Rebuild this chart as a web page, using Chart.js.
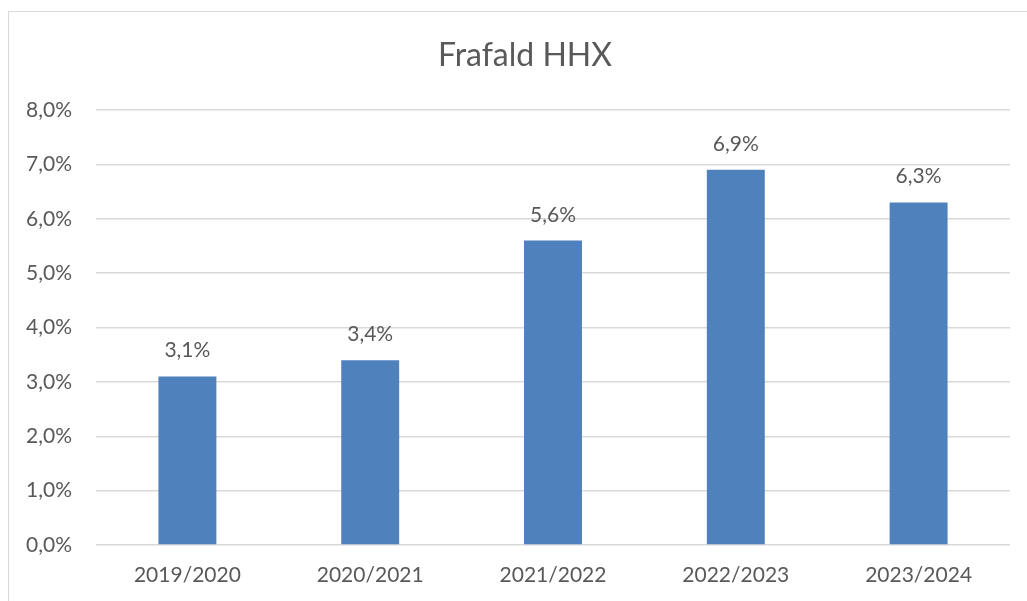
<!DOCTYPE html>
<html>
<head>
<meta charset="utf-8">
<script src="https://cdn.jsdelivr.net/npm/chart.js@4"></script>
<style>
html,body{margin:0;padding:0;background:#fff;}
#wrap{width:1027px;height:601px;position:relative;}
</style>
</head>
<body>
<div id="wrap"><canvas id="c" width="1027" height="601"></canvas></div>
<script>
const categories = ["2019/2020", "2020/2021", "2021/2022", "2022/2023", "2023/2024"];
const dropoutRates = [3.1, 3.4, 5.6, 6.9, 6.3];
const chartTitle = "Frafald HHX";
const yMin = 0, yMax = 8, yStep = 1;

const FONT = "Lato, 'Open Sans', sans-serif";
const TEXT = "#595959";

function fmt(v){ return v.toFixed(1).replace('.', ',') + '%'; }

const decor = {
  id: 'decor',
  beforeDraw(chart){
    const ctx = chart.ctx;
    ctx.save();
    ctx.fillStyle = '#fff';
    ctx.fillRect(0,0,chart.width,chart.height);
    ctx.strokeStyle = '#d9d9d9';
    ctx.lineWidth = 1;
    ctx.strokeRect(8.5, 11.5, 1200, 800);
    ctx.restore();
  },
  afterDraw(chart){
    const ctx = chart.ctx;
    ctx.save();
    ctx.fillStyle = TEXT;
    ctx.font = "32px " + FONT;
    ctx.textAlign = 'center';
    ctx.textBaseline = 'alphabetic';
    ctx.fillText(chartTitle, 525, 66);
    ctx.font = "21px " + FONT;
    const meta = chart.getDatasetMeta(0);
    meta.data.forEach((bar, i) => {
      ctx.fillText(fmt(dropoutRates[i]), bar.x, bar.y - 19);
    });
    ctx.restore();
  }
};

new Chart(document.getElementById('c'), {
  type: 'bar',
  data: {
    labels: categories,
    datasets: [{
      data: dropoutRates,
      backgroundColor: '#4F81BD',
      borderWidth: 0,
      barPercentage: 0.317,
      categoryPercentage: 1.0
    }]
  },
  options: {
    responsive: false,
    animation: false,
    devicePixelRatio: 1,
    layout: { padding: { left: 0, right: 17, top: 110, bottom: 0 } },
    plugins: { legend: { display: false }, title: { display: false }, tooltip: { enabled: false } },
    scales: {
      x: {
        grid: { display: false, drawTicks: false },
        border: { display: false },
        ticks: { color: TEXT, font: { family: FONT, size: 21 }, padding: 18, maxRotation: 0 },
        afterFit(s){ s.height = 56; }
      },
      y: {
        min: yMin, max: yMax,
        grid: { color: '#d9d9d9', lineWidth: 1.5, drawTicks: false },
        border: { display: false },
        ticks: { stepSize: yStep, color: TEXT, font: { family: FONT, size: 21 }, padding: 24,
                 callback: v => fmt(v) },
        afterFit(s){ s.width = 96; }
      }
    }
  },
  plugins: [decor]
});
</script>
</body>
</html>
